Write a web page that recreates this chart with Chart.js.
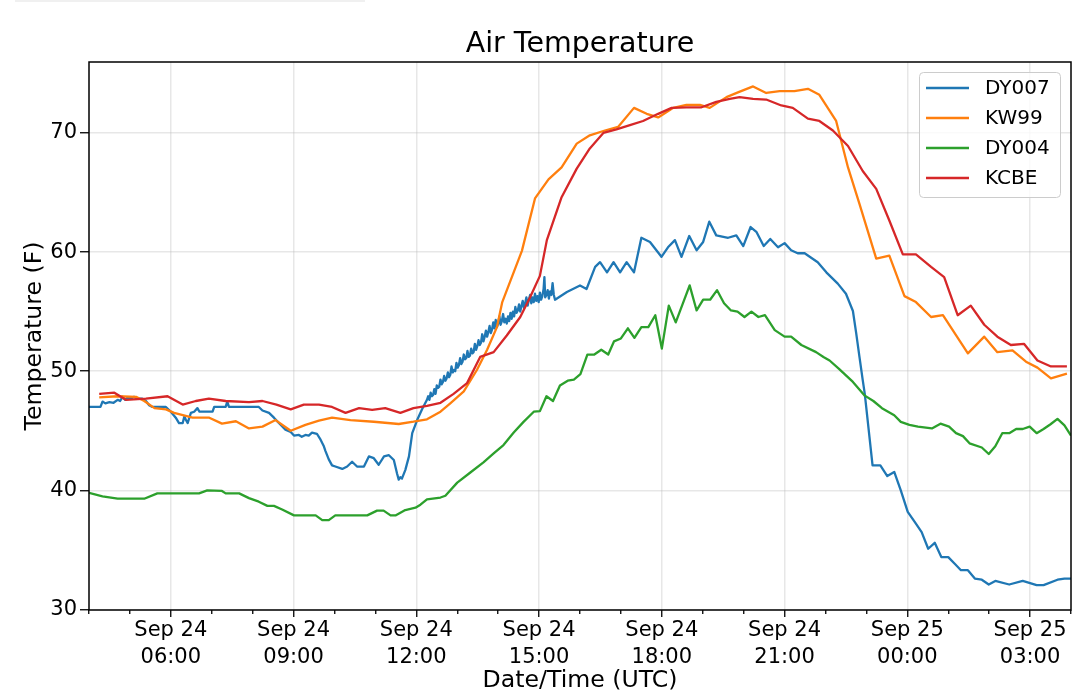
<!DOCTYPE html>
<html>
<head>
<meta charset="utf-8">
<title>Air Temperature</title>
<script src="https://cdn.jsdelivr.net/npm/chart.js@4.4.1/dist/chart.umd.min.js"></script>
<style>
    html, body { margin: 0; padding: 0; background: #fff; }
    #wrap { position: relative; width: 1079px; height: 698px; }
    #strip { position: absolute; left: 15px; top: 0; width: 350px; height: 2px; background: #f0f0f0; }
</style>
</head>
<body>
<div id="wrap">
    <div id="strip"></div>
    <canvas id="tempChart" width="1079" height="698"></canvas>
</div>
<script>
'use strict';

// x values are hours since Sep 24 00:00 UTC, y values are degrees F
const seriesNames = ['DY007', 'KW99', 'DY004', 'KCBE'];
const seriesColors = ['#1f77b4', '#ff7f0e', '#2ca02c', '#d62728'];
const tickDays = ['Sep 24', 'Sep 25'];
const hourRange = [4, 28];
const tempRange = [29.96, 75.95];

const dy007 = [
    [4.00, 47.0], [4.28, 47.0], [4.33, 47.45], [4.40, 47.3], [4.50, 47.4], [4.60, 47.35], [4.70, 47.6],
    [4.76, 47.5], [4.82, 47.85], [4.88, 47.6], [4.95, 47.8], [5.02, 47.7], [5.10, 47.85], [5.20, 47.7],
    [5.30, 47.7], [5.39, 47.5], [5.47, 47.15], [5.55, 47.0], [5.88, 47.0], [6.00, 46.6], [6.12, 46.1],
    [6.20, 45.65], [6.29, 45.65], [6.33, 46.2], [6.37, 45.9], [6.41, 45.65], [6.49, 46.5], [6.57, 46.6],
    [6.65, 46.9], [6.70, 46.6], [6.81, 46.6], [7.02, 46.6], [7.06, 47.0], [7.34, 47.0], [7.38, 47.45],
    [7.42, 47.0], [8.15, 47.0], [8.24, 46.7], [8.40, 46.5], [8.52, 46.1], [8.64, 45.65], [8.80, 45.1],
    [8.93, 44.9], [9.01, 44.6], [9.13, 44.65], [9.20, 44.5], [9.29, 44.65], [9.37, 44.6], [9.45, 44.85],
    [9.57, 44.75], [9.66, 44.25], [9.74, 43.7], [9.78, 43.3], [9.86, 42.6], [9.94, 42.1], [10.02, 42.0],
    [10.19, 41.8], [10.31, 42.0], [10.43, 42.4], [10.55, 42.0], [10.72, 42.0], [10.84, 42.85], [10.96, 42.7],
    [11.08, 42.15], [11.21, 42.85], [11.33, 42.95], [11.45, 42.55], [11.53, 41.4], [11.57, 40.9], [11.61, 41.1],
    [11.65, 41.0], [11.73, 41.7], [11.82, 42.85], [11.90, 44.8], [12.02, 45.9], [12.14, 46.8], [12.26, 47.6],
    [12.29, 47.9], [12.32, 47.6], [12.35, 48.2], [12.38, 47.9], [12.41, 48.0], [12.44, 48.5], [12.47, 48.1],
    [12.50, 48.8], [12.53, 48.6], [12.56, 48.7], [12.59, 49.3], [12.62, 48.9], [12.65, 49.1], [12.68, 49.6],
    [12.71, 49.2], [12.74, 49.4], [12.77, 49.9], [12.80, 49.5], [12.83, 49.7], [12.86, 50.4], [12.89, 49.9],
    [12.92, 50.1], [12.95, 50.0], [12.98, 50.7], [13.01, 50.3], [13.04, 50.5], [13.07, 51.1], [13.10, 50.6],
    [13.13, 50.8], [13.16, 51.4], [13.19, 51.0], [13.22, 51.1], [13.25, 51.7], [13.28, 51.2], [13.31, 51.3],
    [13.34, 51.9], [13.37, 51.5], [13.40, 51.6], [13.43, 52.3], [13.46, 51.8], [13.49, 52.1], [13.52, 52.6],
    [13.55, 52.2], [13.58, 52.4], [13.61, 53.1], [13.64, 52.5], [13.67, 52.9], [13.70, 53.4], [13.73, 52.9],
    [13.76, 53.3], [13.79, 53.8], [13.82, 53.2], [13.85, 53.5], [13.88, 54.1], [13.91, 53.6], [13.94, 54.3],
    [13.97, 53.7], [14.00, 54.0], [14.03, 54.6], [14.06, 53.9], [14.09, 54.2], [14.12, 54.8], [14.15, 54.1],
    [14.18, 54.4], [14.21, 54.0], [14.24, 54.6], [14.27, 54.2], [14.30, 54.9], [14.33, 54.4], [14.36, 55.0],
    [14.39, 54.6], [14.42, 55.4], [14.45, 54.9], [14.48, 55.1], [14.51, 55.6], [14.54, 55.0], [14.57, 55.5],
    [14.60, 55.9], [14.63, 55.3], [14.66, 55.7], [14.69, 56.2], [14.72, 55.5], [14.75, 56.0], [14.78, 56.4],
    [14.81, 55.7], [14.84, 56.2], [14.87, 55.8], [14.90, 56.5], [14.93, 55.9], [14.96, 56.3], [14.99, 55.8],
    [15.02, 56.6], [15.05, 56.0], [15.08, 56.3], [15.11, 56.9], [15.13, 57.9], [15.15, 56.2], [15.18, 56.4],
    [15.21, 56.8], [15.24, 56.1], [15.27, 56.7], [15.30, 56.4], [15.33, 57.4], [15.36, 56.4], [15.39, 56.0],
    [15.68, 56.65], [16.00, 57.2], [16.16, 56.9], [16.37, 58.75], [16.49, 59.15], [16.66, 58.3], [16.82, 59.15],
    [16.98, 58.3], [17.14, 59.15], [17.32, 58.3], [17.50, 61.2], [17.71, 60.85], [17.99, 59.6], [18.15, 60.4],
    [18.32, 61.0], [18.48, 59.6], [18.67, 61.35], [18.85, 60.15], [19.01, 60.85], [19.16, 62.55], [19.33, 61.4],
    [19.62, 61.2], [19.82, 61.4], [19.99, 60.5], [20.17, 62.1], [20.31, 61.7], [20.49, 60.5], [20.65, 61.1],
    [20.84, 60.4], [21.00, 60.75], [21.16, 60.15], [21.32, 59.9], [21.49, 59.9], [21.81, 59.15], [22.02, 58.3],
    [22.30, 57.35], [22.50, 56.5], [22.67, 55.05], [22.75, 53.2], [22.83, 51.2], [22.91, 49.25], [22.96, 48.1],
    [23.15, 42.1], [23.34, 42.1], [23.51, 41.2], [23.68, 41.55], [23.84, 40.0], [24.01, 38.2], [24.18, 37.35],
    [24.35, 36.5], [24.51, 35.1], [24.67, 35.6], [24.83, 34.4], [25.00, 34.4], [25.17, 33.8], [25.31, 33.3],
    [25.48, 33.3], [25.65, 32.6], [25.82, 32.5], [25.99, 32.1], [26.15, 32.4], [26.49, 32.1], [26.82, 32.4],
    [27.16, 32.05], [27.33, 32.05], [27.67, 32.5], [27.84, 32.6], [28.00, 32.6]
];

const kw99 = [
    [4.25, 47.8], [4.70, 47.9], [5.15, 47.85], [5.35, 47.5], [5.60, 46.9], [5.88, 46.8], [6.08, 46.5],
    [6.53, 46.1], [6.94, 46.1], [7.25, 45.6], [7.59, 45.8], [7.91, 45.2], [8.24, 45.35], [8.56, 45.9],
    [8.93, 45.0], [9.29, 45.5], [9.62, 45.85], [9.94, 46.1], [10.39, 45.9], [10.96, 45.76], [11.57, 45.57],
    [11.93, 45.76], [12.26, 45.96], [12.59, 46.6], [12.83, 47.3], [13.16, 48.3], [13.48, 50.1], [13.73, 51.8],
    [13.97, 53.7], [14.10, 55.8], [14.58, 60.1], [14.90, 64.5], [15.23, 66.1], [15.55, 67.1], [15.92, 69.1],
    [16.24, 69.8], [16.61, 70.2], [16.93, 70.5], [17.32, 72.1], [17.63, 71.6], [17.91, 71.3], [18.28, 72.1],
    [18.60, 72.35], [18.93, 72.35], [19.17, 72.1], [19.58, 73.0], [19.86, 73.4], [20.23, 73.9], [20.55, 73.35],
    [20.88, 73.5], [21.24, 73.5], [21.57, 73.7], [21.85, 73.2], [22.26, 71.0], [22.55, 67.1], [22.83, 64.05],
    [23.24, 59.45], [23.56, 59.7], [23.93, 56.3], [24.21, 55.8], [24.58, 54.55], [24.87, 54.7], [25.48, 51.5],
    [25.88, 52.9], [26.20, 51.6], [26.57, 51.75], [26.90, 50.8], [27.18, 50.3], [27.51, 49.4], [27.90, 49.8]
];

const dy004 = [
    [4.00, 39.8], [4.33, 39.5], [4.70, 39.3], [5.35, 39.3], [5.67, 39.75], [6.69, 39.75], [6.89, 40.0],
    [7.25, 39.95], [7.34, 39.75], [7.67, 39.75], [7.91, 39.35], [8.15, 39.05], [8.36, 38.7], [8.52, 38.7],
    [8.72, 38.4], [9.01, 37.9], [9.54, 37.9], [9.70, 37.5], [9.86, 37.5], [10.02, 37.9], [10.80, 37.9],
    [11.04, 38.3], [11.20, 38.3], [11.37, 37.9], [11.49, 37.9], [11.73, 38.35], [11.98, 38.55], [12.10, 38.8],
    [12.26, 39.25], [12.59, 39.4], [12.71, 39.55], [13.00, 40.65], [13.32, 41.5], [13.64, 42.35], [13.89, 43.1],
    [14.13, 43.8], [14.38, 44.85], [14.62, 45.75], [14.87, 46.6], [15.02, 46.65], [15.18, 47.9], [15.34, 47.5],
    [15.51, 48.8], [15.70, 49.2], [15.85, 49.3], [16.01, 49.75], [16.18, 51.4], [16.35, 51.4], [16.52, 51.8],
    [16.69, 51.4], [16.83, 52.5], [17.00, 52.75], [17.17, 53.6], [17.33, 52.8], [17.50, 53.7], [17.67, 53.7],
    [17.84, 54.7], [18.00, 51.9], [18.17, 55.5], [18.34, 54.1], [18.68, 57.2], [18.85, 55.1], [19.01, 56.0],
    [19.18, 56.0], [19.35, 56.8], [19.52, 55.7], [19.69, 55.1], [19.85, 55.0], [20.02, 54.55], [20.19, 55.0],
    [20.36, 54.55], [20.52, 54.7], [20.76, 53.45], [21.00, 52.9], [21.16, 52.9], [21.41, 52.2], [21.77, 51.6],
    [21.95, 51.2], [22.10, 50.9], [22.33, 50.2], [22.67, 49.1], [22.96, 47.95], [23.17, 47.5], [23.38, 46.9],
    [23.68, 46.3], [23.84, 45.75], [24.05, 45.5], [24.26, 45.35], [24.60, 45.2], [24.81, 45.6], [25.02, 45.35],
    [25.19, 44.8], [25.36, 44.55], [25.52, 43.95], [25.82, 43.6], [25.99, 43.05], [26.15, 43.7], [26.32, 44.8],
    [26.49, 44.8], [26.66, 45.15], [26.82, 45.15], [26.99, 45.35], [27.16, 44.8], [27.33, 45.15], [27.50, 45.55],
    [27.67, 46.0], [27.84, 45.45], [28.00, 44.6]
];

const kcbe = [
    [4.25, 48.1], [4.62, 48.2], [4.90, 47.6], [5.39, 47.7], [5.92, 47.9], [6.29, 47.2], [6.61, 47.5],
    [6.93, 47.7], [7.34, 47.5], [7.91, 47.4], [8.24, 47.5], [8.58, 47.2], [8.93, 46.8], [9.25, 47.2],
    [9.62, 47.2], [9.94, 47.0], [10.27, 46.5], [10.60, 46.9], [10.92, 46.75], [11.24, 46.9], [11.61, 46.5],
    [11.93, 46.9], [12.26, 47.1], [12.59, 47.35], [12.91, 48.1], [13.24, 49.0], [13.56, 51.2], [13.89, 51.6],
    [14.21, 53.0], [14.54, 54.55], [14.78, 56.2], [15.02, 58.0], [15.19, 61.0], [15.55, 64.6], [15.92, 67.0],
    [16.24, 68.7], [16.57, 70.0], [16.89, 70.3], [17.22, 70.65], [17.54, 71.0], [17.91, 71.6], [18.24, 72.1],
    [18.60, 72.15], [18.97, 72.15], [19.33, 72.6], [19.66, 72.85], [19.90, 73.0], [20.23, 72.85], [20.55, 72.8],
    [20.92, 72.3], [21.20, 72.1], [21.57, 71.2], [21.85, 71.0], [22.18, 70.2], [22.55, 68.9], [22.91, 66.8],
    [23.24, 65.3], [23.56, 62.65], [23.89, 59.8], [24.21, 59.8], [24.58, 58.75], [24.90, 57.9], [25.23, 54.7],
    [25.55, 55.5], [25.88, 53.9], [26.20, 52.9], [26.53, 52.2], [26.85, 52.3], [27.18, 50.9], [27.51, 50.4],
    [27.90, 50.4]
];

const FONT = '"DejaVu Sans", sans-serif';
const GRID = 'rgba(176, 176, 176, 0.3)';

function _toPoints(pairs) {
    return pairs.map(function (p) {
        return {x: p[0], y: p[1]};
    });
}

function _hourLabel(value) {
    if (value % 3 !== 0) return '';
    const day = tickDays[Math.floor(value / 24)];
    const hh = String(value % 24).padStart(2, '0');
    return [day, hh + ':00'];
}

// matplotlib-like box around the axes
const framePlugin = {
    id: 'frame',
    afterDatasetsDraw(chart) {
        const {ctx, chartArea: a} = chart;
        ctx.save();
        ctx.strokeStyle = '#000';
        ctx.lineWidth = 1.5;
        ctx.strokeRect(a.left, a.top, a.right - a.left, a.bottom - a.top);
        ctx.restore();
    }
};

// legend in a rounded box, upper right inside the axes
const boxLegend = {
    id: 'boxLegend',
    afterDraw(chart) {
        const {ctx, chartArea: a} = chart;
        const sets = chart.data.datasets;
        const w = 141, rowH = 30;
        const h = sets.length * rowH + 5;
        const left = a.right - 11 - w, top = a.top + 10;
        ctx.save();
        ctx.beginPath();
        if (ctx.roundRect) ctx.roundRect(left + 0.5, top + 0.5, w, h, 4);
        else ctx.rect(left + 0.5, top + 0.5, w, h);
        ctx.fillStyle = 'rgba(255, 255, 255, 0.8)';
        ctx.fill();
        ctx.strokeStyle = '#cccccc';
        ctx.lineWidth = 1;
        ctx.stroke();
        ctx.font = '20px ' + FONT;
        ctx.textBaseline = 'middle';
        ctx.fillStyle = '#000';
        sets.forEach(function (ds, i) {
            const y = top + 16 + i * rowH;
            ctx.beginPath();
            ctx.moveTo(left + 7, y);
            ctx.lineTo(left + 50, y);
            ctx.strokeStyle = ds.borderColor;
            ctx.lineWidth = 2.3;
            ctx.stroke();
            ctx.fillText(ds.label, left + 66, y + 1);
        });
        ctx.restore();
    }
};

const seriesData = [dy007, kw99, dy004, kcbe];

new Chart(document.getElementById('tempChart').getContext('2d'), {
    type: 'line',
    data: {
        datasets: seriesData.map(function (pairs, i) {
            return {
                label: seriesNames[i],
                data: _toPoints(pairs),
                borderColor: seriesColors[i],
                backgroundColor: seriesColors[i],
                borderWidth: 2.3,
                borderJoinStyle: 'round',
                pointRadius: 0,
                tension: 0,
                fill: false,
                order: seriesData.length - i
            };
        })
    },
    options: {
        responsive: false,
        animation: false,
        layout: {padding: {left: 0, right: 8, top: 0, bottom: 0}},
        plugins: {
            legend: {display: false},
            tooltip: {enabled: false},
            title: {
                display: true,
                text: 'Air Temperature',
                color: '#000',
                fullSize: false,
                font: {family: FONT, size: 28.5, weight: 'normal', lineHeight: 1.2},
                padding: {top: 27, bottom: 0.8}
            }
        },
        scales: {
            x: {
                type: 'linear',
                min: hourRange[0],
                max: hourRange[1],
                afterFit(scale) {
                    scale.height = 88;
                },
                border: {display: false},
                grid: {
                    color: (c) => (c.tick && c.tick.value % 3 === 0 ? GRID : 'rgba(0,0,0,0)'),
                    lineWidth: 1.5,
                    tickColor: '#000',
                    tickWidth: 1.3,
                    tickLength: 7,
                    tickBorderDash: (c) => (c.tick && c.tick.value % 3 === 0 ? [] : [4, 20])
                },
                ticks: {
                    stepSize: 1,
                    maxTicksLimit: 30,
                    autoSkip: false,
                    maxRotation: 0,
                    padding: 1,
                    color: '#000',
                    font: {family: FONT, size: 21, lineHeight: 1.24},
                    callback: _hourLabel
                },
                title: {
                    display: true,
                    text: 'Date/Time (UTC)',
                    color: '#000',
                    font: {family: FONT, size: 23.6},
                    padding: {top: 0, bottom: 3}
                }
            },
            y: {
                min: tempRange[0],
                max: tempRange[1],
                afterFit(scale) {
                    scale.width = 89;
                },
                border: {display: false},
                grid: {color: GRID, lineWidth: 1.5, tickColor: '#000', tickWidth: 1.3, tickLength: 9},
                ticks: {
                    stepSize: 10,
                    includeBounds: false,
                    padding: 3,
                    color: '#000',
                    font: {family: FONT, size: 21}
                },
                title: {
                    display: true,
                    text: 'Temperature (F)',
                    color: '#000',
                    font: {family: FONT, size: 23.6},
                    padding: {top: 20.5, bottom: 0}
                }
            }
        }
    },
    plugins: [framePlugin, boxLegend]
});
</script>
</body>
</html>
